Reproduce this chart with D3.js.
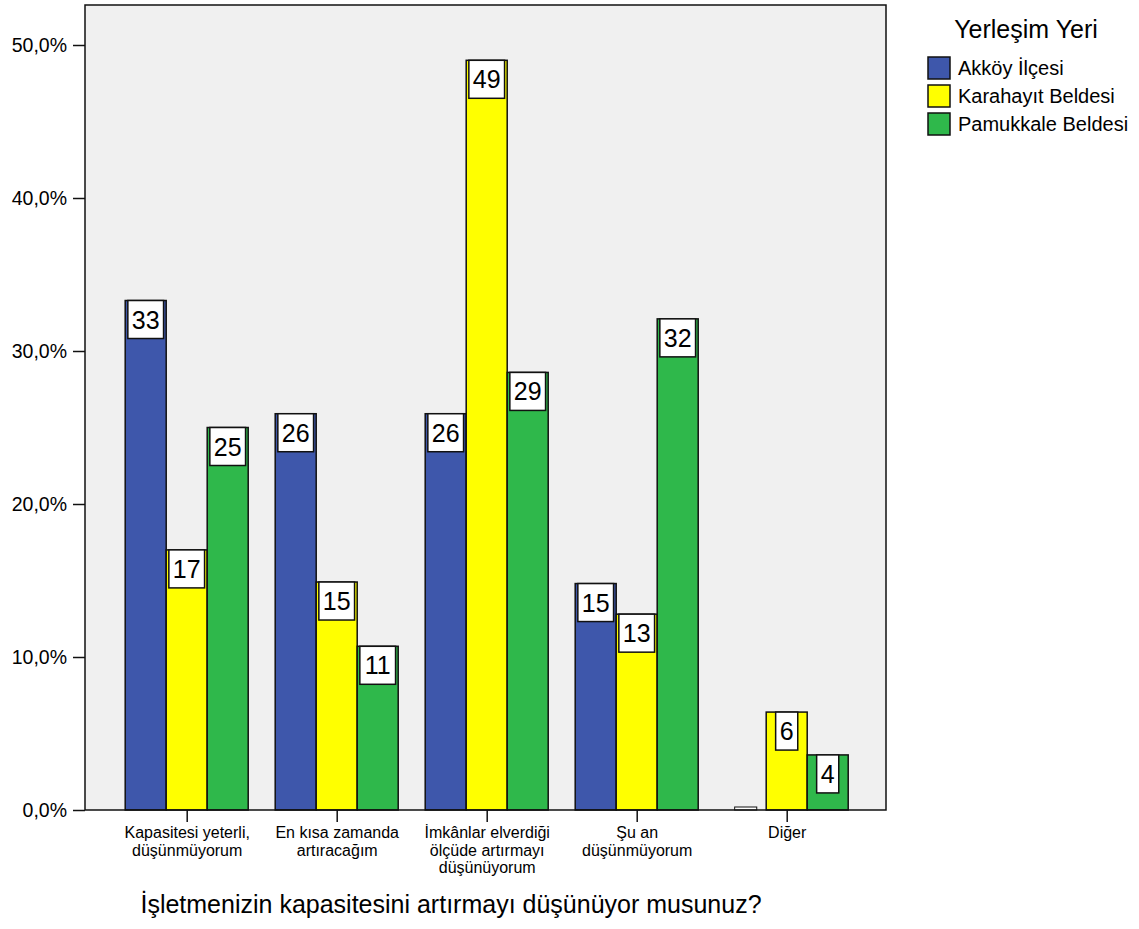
<!DOCTYPE html>
<html>
<head>
<meta charset="utf-8">
<script src="https://cdn.jsdelivr.net/npm/d3@7"></script>
<style>
  body { margin: 0; background: #fff; }
  text { font-family: "Liberation Sans", Arial, sans-serif; fill: #000; }
</style>
</head>
<body>
<script>
// categories on the x axis (multi-line labels)
var categories = [
    ["Kapasitesi yeterli,", "düşünmüyorum"],
    ["En kısa zamanda", "artıracağım"],
    ["İmkânlar elverdiği", "ölçüde artırmayı", "düşünüyorum"],
    ["Şu an", "düşünmüyorum"],
    ["Diğer"]
];
var seriesNames = ["Akköy İlçesi", "Karahayıt Beldesi", "Pamukkale Beldesi"];
var seriesColors = ["#3e57ab", "#ffff00", "#2fb84b"];

// bar heights in percent
var akkoyPct = [33.3, 25.9, 25.9, 14.8, 0];
var karahayitPct = [17.0, 14.9, 49.0, 12.8, 6.4];
var pamukkalePct = [25.0, 10.7, 28.6, 32.1, 3.6];

// counts shown in the boxes
var akkoyN = [33, 26, 26, 15, 0];
var karahayitN = [17, 15, 49, 13, 6];
var pamukkaleN = [25, 11, 29, 32, 4];

var yTicks = [0, 10, 20, 30, 40, 50];

var width = 1139, height = 929;
var plot = {left: 85, right: 886, top: 5, bottom: 810};

var svg = d3.select("body").append("svg")
    .attr("width", width)
    .attr("height", height);

var yScale = d3.scaleLinear().domain([0, 50]).range([810, 45]);

var catIdx = d3.range(categories.length);
var xCenter = d3.scalePoint().domain(catIdx).range([186.7, 786.7]);
var xInner = d3.scaleBand().domain(d3.range(seriesNames.length)).range([-61.5, 61.5]);

/* plot background */
svg.append("rect")
    .attr("x", plot.left).attr("y", plot.top)
    .attr("width", plot.right - plot.left).attr("height", plot.bottom - plot.top)
    .attr("fill", "#f0f0f0");

var pcts = [akkoyPct, karahayitPct, pamukkalePct];
var counts = [akkoyN, karahayitN, pamukkaleN];
var bars = [];
pcts.forEach(function(arr, s) {
    arr.forEach(function(v, c) {
        bars.push({s: s, c: c, v: v, n: counts[s][c]});
    });
});

/* bars */
svg.selectAll("rect.bar")
    .data(bars)
    .enter()
    .append("rect")
    .attr("class", "bar")
    .attr("x", function(d) { return xCenter(d.c) + xInner(d.s); })
    .attr("y", function(d) { return yScale(d.v); })
    .attr("width", xInner.bandwidth())
    .attr("height", function(d) { return yScale(0) - yScale(d.v); })
    .attr("fill", function(d) { return seriesColors[d.s]; })
    .attr("stroke", function(d) { return d.v > 0 ? "#111" : "none"; })
    .attr("stroke-width", 1.5);

/* value boxes */
var labels = svg.selectAll("g.lab")
    .data(bars)
    .enter()
    .append("g")
    .attr("class", "lab");

labels.each(function(d) {
    var g = d3.select(this);
    var cx = xCenter(d.c) + xInner(d.s) + xInner.bandwidth() / 2;
    var top = yScale(d.v);
    var h = yScale(0) - top;
    var bw = String(d.n).length * 13.6 + 8.5;
    var bh = Math.min(38, h);
    if (bh < 3) { bh = 3; top = yScale(0) - 3; }
    g.append("rect")
        .attr("x", cx - bw / 2).attr("y", top)
        .attr("width", bw).attr("height", bh)
        .attr("fill", "#fff")
        .attr("stroke", "#111")
        .attr("stroke-width", h < 3 ? 1 : 1.5);
    if (h >= 38) {
        g.append("text")
            .attr("x", cx).attr("y", top + 28)
            .attr("text-anchor", "middle")
            .attr("font-size", 25)
            .text(d.n);
    }
});

/* frame */
svg.append("rect")
    .attr("x", plot.left).attr("y", plot.top)
    .attr("width", plot.right - plot.left).attr("height", plot.bottom - plot.top)
    .attr("fill", "none")
    .attr("stroke", "#111")
    .attr("stroke-width", 1.5);

/* y axis */
var yAxis = d3.axisLeft(yScale)
    .tickValues(yTicks)
    .tickSize(12)
    .tickPadding(6)
    .tickFormat(function(d) { return d.toFixed(1).replace(".", ",") + "%"; });

var gy = svg.append("g")
    .attr("transform", "translate(" + plot.left + ",0)")
    .call(yAxis);
gy.select(".domain").remove();
gy.selectAll(".tick line").attr("stroke", "#111").attr("stroke-width", 1.5);
gy.selectAll(".tick text")
    .attr("font-size", 19.5)
    .attr("font-family", "Liberation Sans, Arial, sans-serif")
    .attr("fill", "#000");

/* x axis */
var xAxis = d3.axisBottom(xCenter)
    .tickSize(12)
    .tickFormat("");
var gx = svg.append("g")
    .attr("transform", "translate(0," + plot.bottom + ")")
    .call(xAxis);
gx.select(".domain").remove();
gx.selectAll(".tick line").attr("stroke", "#111").attr("stroke-width", 1.5);

// one text per line so the lines sit on a fixed 17.5px pitch
gx.selectAll(".tick").each(function(c) {
    var tick = d3.select(this);
    categories[c].forEach(function(line, i) {
        tick.append("text")
            .attr("x", 0)
            .attr("y", 28 + i * 17.5)
            .attr("text-anchor", "middle")
            .attr("font-size", 16)
            .attr("font-family", "Liberation Sans, Arial, sans-serif")
            .attr("fill", "#000")
            .text(line);
    });
});

/* axis title */
svg.append("text")
    .attr("x", 451)
    .attr("y", 913)
    .attr("text-anchor", "middle")
    .attr("font-size", 25)
    .text("İşletmenizin kapasitesini artırmayı düşünüyor musunuz?");

/* legend */
svg.append("text")
    .attr("x", 1026)
    .attr("y", 38)
    .attr("text-anchor", "middle")
    .attr("font-size", 25)
    .text("Yerleşim Yeri");

var leg = svg.selectAll("g.leg")
    .data(seriesNames)
    .enter()
    .append("g")
    .attr("class", "leg")
    .attr("transform", function(d, i) { return "translate(928," + (57 + i * 28) + ")"; });

leg.append("rect")
    .attr("width", 22).attr("height", 22)
    .attr("fill", function(d, i) { return seriesColors[i]; })
    .attr("stroke", "#111")
    .attr("stroke-width", 1.5);

leg.append("text")
    .attr("x", 30)
    .attr("y", 18)
    .attr("font-size", 20)
    .text(function(d) { return d; });
</script>
</body>
</html>
